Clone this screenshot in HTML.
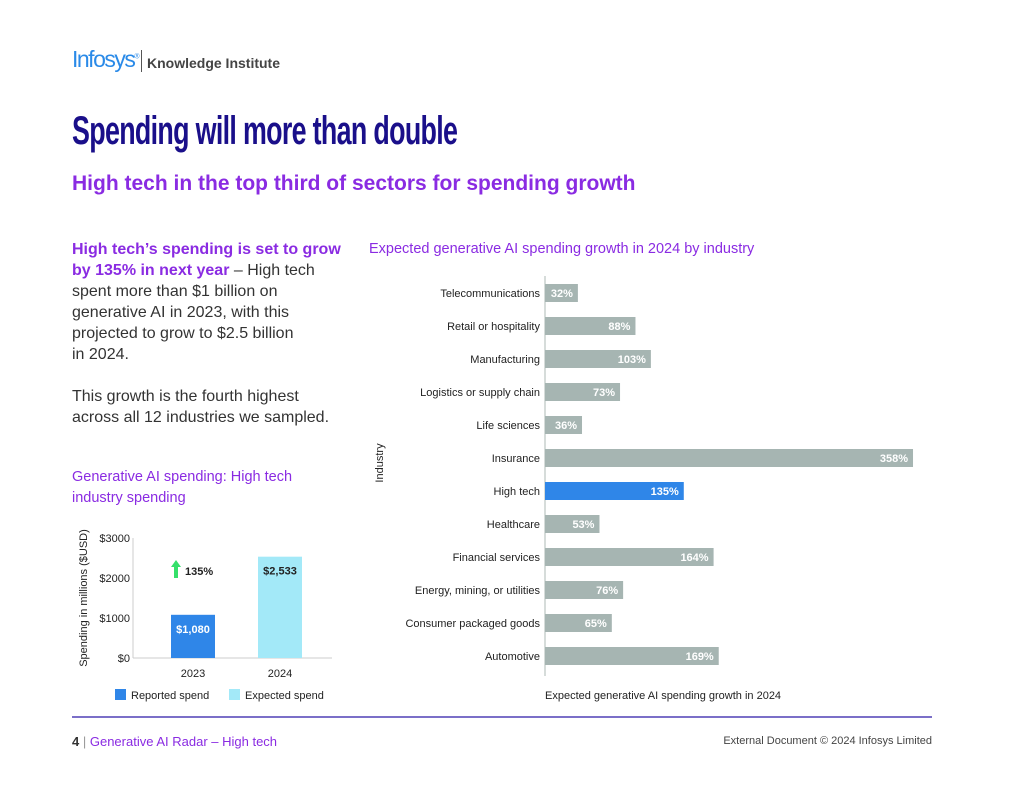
<!DOCTYPE html>
<html><head><meta charset="utf-8"><style>
body{margin:0;width:1024px;height:791px;background:#fff;font-family:"Liberation Sans",sans-serif;position:relative;overflow:hidden}
.a{position:absolute;white-space:nowrap}
</style></head><body>
<div class="a" style="left:72px;top:46px;font-size:23px;color:#2a8ae8;letter-spacing:-1.5px">Infosys<sup style="font-size:7px">®</sup></div>
<div class="a" style="left:141px;top:50px;width:1px;height:22px;background:#555"></div>
<div class="a" style="left:147px;top:55px;font-size:14px;font-weight:bold;color:#444">Knowledge Institute</div>
<div class="a" id="title" style="left:72px;top:109px;font-size:40px;font-weight:bold;color:#1a0f8a;letter-spacing:-1px;transform-origin:left">Spending will more than double</div>
<div class="a" style="left:72px;top:172px;font-size:21px;font-weight:bold;color:#8a2be2">High tech in the top third of sectors for spending growth</div>
<div class="a" style="left:72px;top:239px;font-size:16px;line-height:21px;color:#333"><b style="color:#8a2be2">High tech’s spending is set to grow<br>by 135% in next year</b> – High tech<br>spent more than $1 billion on<br>generative AI in 2023, with this<br>projected to grow to $2.5 billion<br>in 2024.<br><br>This growth is the fourth highest<br>across all 12 industries we sampled.</div>
<div class="a" style="left:72px;top:467px;font-size:14.5px;line-height:21px;color:#8a2be2">Generative AI spending: High tech<br>industry spending</div>
<div class="a" style="left:369px;top:241px;font-size:14.5px;color:#8a2be2">Expected generative AI spending growth in 2024 by industry</div>
<svg class="a" style="left:0;top:0" width="1024" height="791" id="svg" font-family="Liberation Sans, sans-serif"></svg>
<div class="a" style="left:72px;top:716px;width:860px;height:2px;background:#7b6fc8"></div>
<div class="a" style="left:72px;top:734px;font-size:13px;color:#8a2be2"><b style="color:#333">4</b> <span style="color:#999">|</span> Generative AI Radar – High tech</div>
<div class="a" style="right:92px;top:735px;font-size:11px;color:#444">External Document © 2024 Infosys Limited</div>
<script>
const industries=["Telecommunications","Retail or hospitality","Manufacturing","Logistics or supply chain","Life sciences","Insurance","High tech","Healthcare","Financial services","Energy, mining, or utilities","Consumer packaged goods","Automotive"];
const growth=[32,88,103,73,36,358,135,53,164,76,65,169];
const years=["2023","2024"];
const spend=[1080,2533];
const spendLabels=["$1,080","$2,533"];
const yTicks=[0,1000,2000,3000];
const yTickLabels=["$0","$1000","$2000","$3000"];
const ti=document.getElementById('title');ti.style.transform='scaleX('+(385/ti.offsetWidth)+')';
const NS="http://www.w3.org/2000/svg";
const svg=document.getElementById('svg');
function mk(t,a,txt){const e=document.createElementNS(NS,t);for(const k in a)e.setAttribute(k,a[k]);if(txt!=null)e.textContent=txt;svg.appendChild(e);return e;}
const x0=545,sx=1.028,rowY=i=>293+i*33;
const ax=mk('line',{x1:x0,y1:276,x2:x0,y2:676,stroke:'#c8d0ce','stroke-width':1.5});

industries.forEach((n,i)=>{
 const y=rowY(i);
 const t=mk('text',{x:540,y:y+4,'text-anchor':'end','font-size':11,fill:'#222'},n);
 
 const w=growth[i]*sx;
 const hi=n==="High tech";
 const r=mk('rect',{x:x0,y:y-9,width:w,height:18,fill:hi?'#2f86e8':'#a6b5b2'});
 
 const v=mk('text',{x:x0+w-5,y:y+4,'text-anchor':'end','font-size':11,'font-weight':'bold',fill:'#fff'},growth[i]+'%');
 
});
const yt=mk('text',{transform:'translate(383,463) rotate(-90)','text-anchor':'middle','font-size':11,fill:'#222'},'Industry');

const xt=mk('text',{x:545,y:699,'font-size':11,fill:'#222'},'Expected generative AI spending growth in 2024');

const base=658,sy=0.04,ax2=133;
const yv=v=>base-v*sy;
const l1=mk('line',{x1:ax2,y1:538,x2:ax2,y2:base,stroke:'#ccc'});
const l2=mk('line',{x1:ax2,y1:base,x2:332,y2:base,stroke:'#ccc'});
yTicks.forEach((v,i)=>{
 const t=mk('text',{x:130,y:yv(v)+4,'text-anchor':'end','font-size':11,fill:'#222'},yTickLabels[i]);
 
});
const bx=[171,258],cols=['#2f86e8','#a3e9f8'],tc=['#fff','#222'];
years.forEach((y,i)=>{
 const r=mk('rect',{x:bx[i],y:yv(spend[i]),width:44,height:spend[i]*sy,fill:cols[i]});
 
 const ly=yv(spend[i])+18;
 const v=mk('text',{x:bx[i]+22,y:ly,'text-anchor':'middle','font-size':11,'font-weight':'bold',fill:tc[i]},spendLabels[i]);
 
 const t=mk('text',{x:bx[i]+22,y:677,'text-anchor':'middle','font-size':11,fill:'#222'},y);
 
});
const ar=mk('path',{d:'M176 560 L181 567 L178 567 L178 578 L174 578 L174 567 L171 567 Z',fill:'#35e06a'});

const gt=mk('text',{x:185,y:575,'font-size':11,'font-weight':'bold',fill:'#222'},'135%');

const st=mk('text',{transform:'translate(87,598) rotate(-90)','text-anchor':'middle','font-size':11,fill:'#222'},'Spending in millions ($USD)');

[['Reported spend',115,'#2f86e8'],['Expected spend',229,'#a3e9f8']].forEach(([n,x,c])=>{
 const r=mk('rect',{x:x,y:689,width:11,height:11,fill:c});
 
 const t=mk('text',{x:x+16,y:699,'font-size':11,fill:'#222'},n);
 
});
</script>
</body></html>
